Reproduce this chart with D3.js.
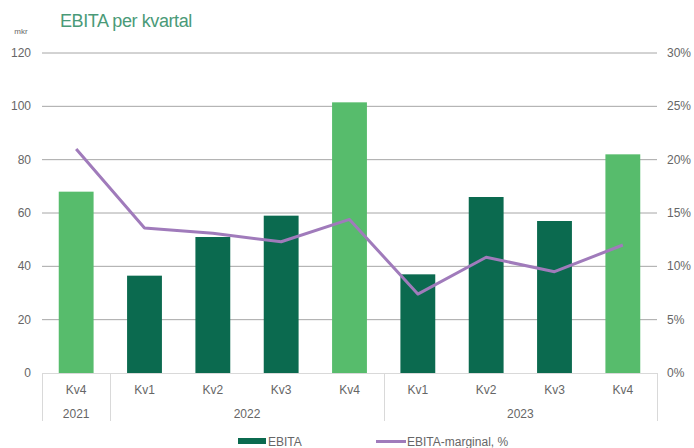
<!DOCTYPE html>
<html>
<head>
<meta charset="utf-8">
<script src="https://cdn.jsdelivr.net/npm/d3@7"></script>
<style>
  body { margin: 0; background: #fff; }
  svg text { font-family: "Liberation Sans", "DejaVu Sans", sans-serif; }
</style>
</head>
<body>
<div id="chart"></div>
<script>
(function() {
    // data
    const quarters = ["Kv4", "Kv1", "Kv2", "Kv3", "Kv4", "Kv1", "Kv2", "Kv3", "Kv4"];
    const years = [
        { label: "2021", from: 0, to: 0 },
        { label: "2022", from: 1, to: 4 },
        { label: "2023", from: 5, to: 8 }
    ];
    const ebita = [68, 36.5, 51, 59, 101.5, 37, 66, 57, 82];
    const margin = [21.0, 13.6, 13.1, 12.3, 14.4, 7.4, 10.85, 9.5, 12.0];
    const isQ4 = [true, false, false, false, true, false, false, false, true];
    const leftTicks = [0, 20, 40, 60, 80, 100, 120];
    const rightTicks = [0, 5, 10, 15, 20, 25, 30];

    const width = 694, height = 448;
    const plot = { left: 42, right: 657, top: 53, bottom: 373 };

    const darkGreen = "#0b6a4f", lightGreen = "#57bc6c", purple = "#a07bbb";
    const textGray = "#666666";

    const svg = d3.select("#chart").append("svg")
        .attr("width", width)
        .attr("height", height);

    const x = d3.scaleBand()
        .domain(d3.range(quarters.length))
        .range([plot.left, plot.right])
        .paddingInner(0.49)
        .paddingOuter(0.245);

    const xc = i => x(i) + x.bandwidth() / 2;
    const step = x.step();

    const yL = d3.scaleLinear().domain([0, 120]).range([plot.bottom, plot.top]);
    const yR = d3.scaleLinear().domain([0, 30]).range([plot.bottom, plot.top]);

    // title
    svg.append("text")
        .attr("x", 60).attr("y", 27)
        .attr("fill", "#4a9a78")
        .style("font-size", "18px")
        .style("letter-spacing", "-0.4px")
        .text("EBITA per kvartal");

    svg.append("text")
        .attr("x", 21).attr("y", 34)
        .attr("text-anchor", "middle")
        .attr("fill", textGray)
        .style("font-size", "8px")
        .text("mkr");

    // gridlines
    svg.append("g").selectAll("line")
        .data(leftTicks.filter(d => d > 0)).join("line")
        .attr("x1", plot.left).attr("x2", plot.right)
        .attr("y1", d => yL(d)).attr("y2", d => yL(d))
        .attr("stroke", "#a6a6a6").attr("stroke-width", 1);

    // left axis labels
    svg.append("g").selectAll("text")
        .data(leftTicks).join("text")
        .attr("x", 31).attr("y", d => yL(d) + 4)
        .attr("text-anchor", "end")
        .attr("fill", textGray)
        .style("font-size", "12px")
        .text(d => d);

    // right axis labels
    svg.append("g").selectAll("text")
        .data(rightTicks).join("text")
        .attr("x", 667).attr("y", d => yR(d) + 4)
        .attr("fill", textGray)
        .style("font-size", "12px")
        .text(d => d + "%");

    // bars
    svg.append("g").selectAll("rect")
        .data(ebita).join("rect")
        .attr("x", (d, i) => x(i))
        .attr("width", x.bandwidth())
        .attr("y", d => yL(d))
        .attr("height", d => yL(0) - yL(d))
        .attr("fill", (d, i) => isQ4[i] ? lightGreen : darkGreen);

    // category axis
    const axisColor = "#d9d9d9";
    svg.append("line")
        .attr("x1", plot.left).attr("x2", plot.right)
        .attr("y1", plot.bottom + 0.5).attr("y2", plot.bottom + 0.5)
        .attr("stroke", axisColor);

    const seps = [plot.left].concat(years.map(y => plot.left + (y.to + 1) * step));
    svg.append("g").selectAll("line")
        .data(seps).join("line")
        .attr("x1", d => Math.round(d) + 0.5).attr("x2", d => Math.round(d) + 0.5)
        .attr("y1", plot.bottom).attr("y2", 421)
        .attr("stroke", axisColor);

    svg.append("g").selectAll("text")
        .data(quarters).join("text")
        .attr("x", (d, i) => xc(i)).attr("y", 394)
        .attr("text-anchor", "middle")
        .attr("fill", textGray)
        .style("font-size", "12px")
        .text(d => d);

    svg.append("g").selectAll("text")
        .data(years).join("text")
        .attr("x", d => (xc(d.from) + xc(d.to)) / 2).attr("y", 418)
        .attr("text-anchor", "middle")
        .attr("fill", textGray)
        .style("font-size", "12px")
        .text(d => d.label);

    // margin line
    const line = d3.line()
        .x((d, i) => xc(i))
        .y(d => yR(d));

    svg.append("path")
        .datum(margin)
        .attr("d", line)
        .attr("fill", "none")
        .attr("stroke", purple)
        .attr("stroke-width", 3)
        .attr("stroke-linejoin", "round");

    // legend
    const lg = svg.append("g");
    lg.append("rect")
        .attr("x", 238).attr("y", 438).attr("width", 28).attr("height", 6)
        .attr("fill", darkGreen);
    lg.append("text")
        .attr("x", 268).attr("y", 446)
        .attr("fill", textGray)
        .style("font-size", "12px")
        .text("EBITA");
    lg.append("line")
        .attr("x1", 376).attr("x2", 406).attr("y1", 441.5).attr("y2", 441.5)
        .attr("stroke", purple).attr("stroke-width", 3);
    lg.append("text")
        .attr("x", 407).attr("y", 446)
        .attr("fill", textGray)
        .style("font-size", "12px")
        .text("EBITA-marginal, %");
})();
</script>
</body>
</html>
